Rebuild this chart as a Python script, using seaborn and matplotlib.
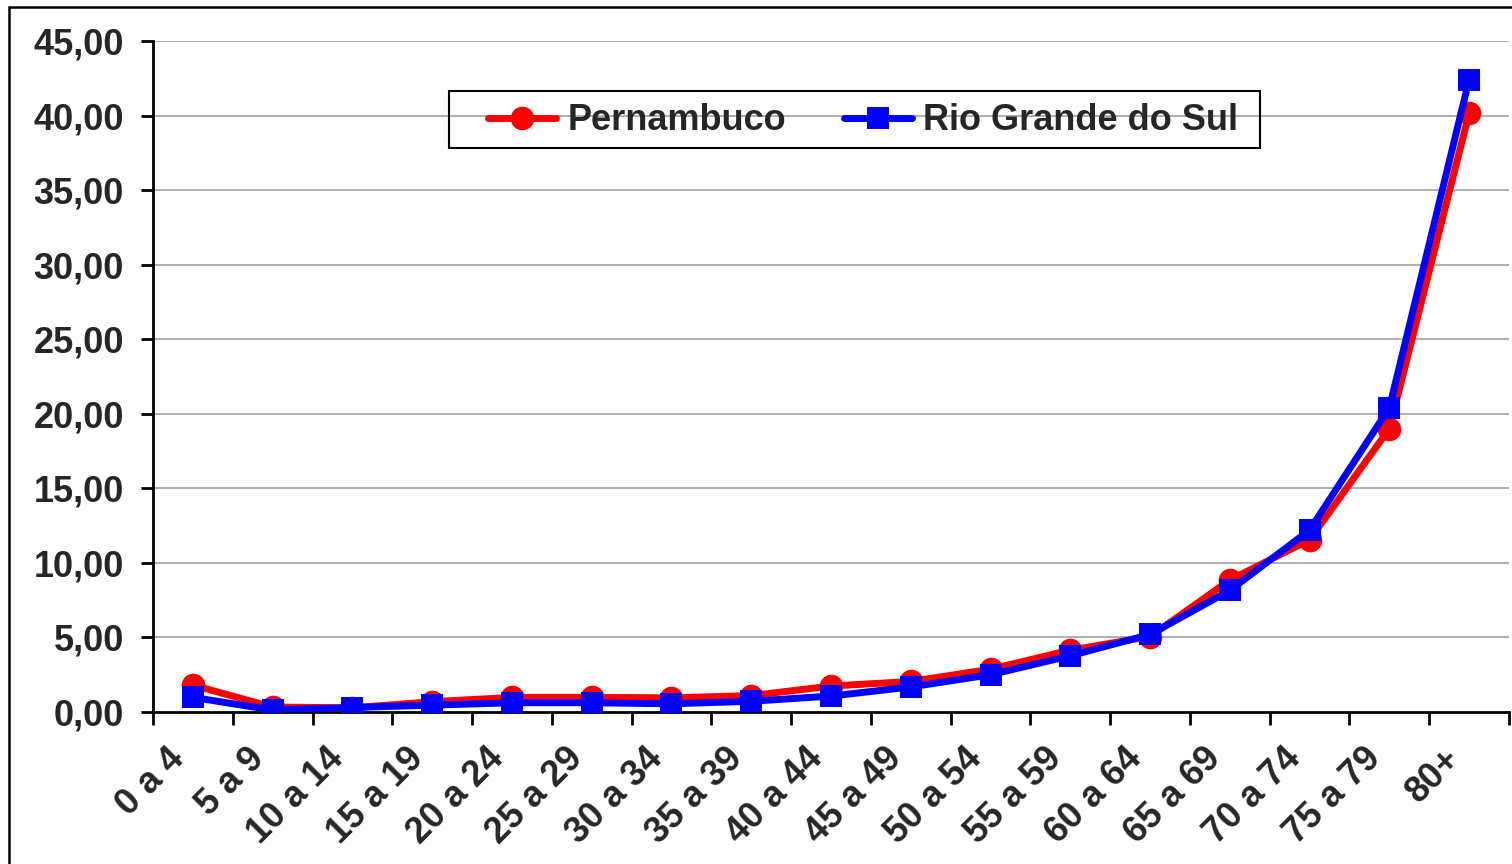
import numpy as np
import pandas as pd
import matplotlib
matplotlib.use("Agg")
import matplotlib.pyplot as plt
from matplotlib.patches import Rectangle
import seaborn as sns

categories = ["0 a 4", "5 a 9", "10 a 14", "15 a 19", "20 a 24", "25 a 29", "30 a 34",
              "35 a 39", "40 a 44", "45 a 49", "50 a 54", "55 a 59", "60 a 64",
              "65 a 69", "70 a 74", "75 a 79", "80+"]
pernambuco = [1.80, 0.33, 0.28, 0.69, 0.98, 0.98, 0.95, 1.10, 1.74, 2.05, 2.87,
              4.15, 5.06, 8.85, 11.55, 19.00, 40.15]
rio_grande = [0.98, 0.13, 0.30, 0.46, 0.62, 0.62, 0.55, 0.72, 1.07, 1.68, 2.50,
              3.77, 5.20, 8.15, 12.20, 20.40, 42.40]
yticks = [0, 5, 10, 15, 20, 25, 30, 35, 40, 45]
series_names = ["Pernambuco", "Rio Grande do Sul"]

sns.set_theme(style="white")
plt.rcParams["font.family"] = ["Liberation Sans", "DejaVu Sans"]
plt.rcParams["font.weight"] = "bold"

pos = np.arange(len(categories))
df_p = pd.DataFrame({"x": pos, "y": pernambuco})
df_r = pd.DataFrame({"x": pos, "y": rio_grande})

fig = plt.figure(figsize=(15.12, 8.64), dpi=100)
ax = fig.add_axes([153 / 1512, 1 - 712 / 864, (1509 - 153) / 1512, (712 - 41) / 864])

sns.lineplot(data=df_p, x="x", y="y", ax=ax, color="#ff0000", lw=5,
             marker="o", markersize=17, markeredgewidth=0, label=series_names[0], zorder=3)
sns.lineplot(data=df_r, x="x", y="y", ax=ax, color="#0000ff", lw=5,
             marker="s", markersize=16.5, markeredgewidth=0, label=series_names[1], zorder=4)

ax.set_xlim(-0.5, len(categories) - 0.5)
ax.set_ylim(0, 45)
ax.set_yticks(yticks)
ax.set_yticklabels([f"{v:.2f}".replace(".", ",") for v in yticks], fontsize=26, fontweight="bold")
# labels sit slightly left of each category centre, as in the original
ax.set_xticks(pos - 0.33)
ax.set_xticklabels(categories, rotation=45, ha="right", rotation_mode="anchor",
                   fontsize=26, fontweight="bold")
ax.set_xticks(np.arange(-0.5, len(categories) + 0.5, 1), minor=True)
ax.tick_params(axis="x", which="major", length=0, pad=21)
ax.tick_params(axis="x", which="minor", length=9, width=2, direction="out", color="black", bottom=True)
ax.tick_params(axis="y", length=9, width=2, direction="out", color="black", left=True, pad=12)
ax.set_xlabel("")
ax.set_ylabel("")

for y in yticks[1:]:
    ax.axhline(y, color="#a0a0a0", lw=1.2, zorder=1)

for s in ["top", "right"]:
    ax.spines[s].set_visible(False)
for s in ["left", "bottom"]:
    ax.spines[s].set_color("black")
    ax.spines[s].set_linewidth(2)

leg = ax.legend(loc="center", bbox_to_anchor=(863 / 1512, 1 - 121 / 864),
                bbox_transform=fig.transFigure, ncol=2, frameon=False,
                prop={"size": 26, "weight": "bold"}, handlelength=1.9,
                handletextpad=0.3, columnspacing=1.6)
fig.patches.append(Rectangle((449 / 1512, 1 - 148 / 864), (1260 - 449) / 1512, 57 / 864,
                             transform=fig.transFigure, fill=False, edgecolor="black", lw=1.5))
fig.patches.append(Rectangle((8.5 / 1512, -0.1), 2, 1.1 - 7.5 / 864,
                             transform=fig.transFigure, fill=False, edgecolor="black", lw=1.8))

fig.savefig("out.png", dpi=100)
